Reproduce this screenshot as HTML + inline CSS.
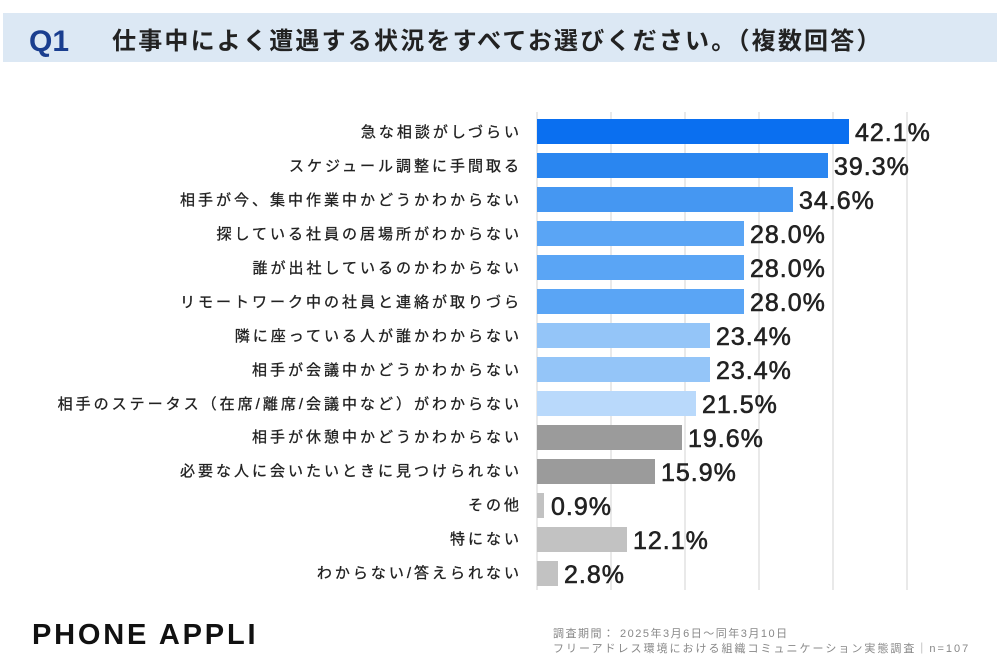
<!DOCTYPE html>
<html><head><meta charset="utf-8"><style>
body{margin:0;background:#fff;width:1000px;height:667px;overflow:hidden;font-family:"Liberation Sans","Noto Sans CJK JP",sans-serif}
</style></head><body>
<svg width="1000" height="667" xmlns="http://www.w3.org/2000/svg" font-family="Liberation Sans, Noto Sans CJK JP, sans-serif">
<rect x="3" y="13" width="994" height="49" fill="#dce8f4"/>
<text x="29" y="51" font-size="30" font-weight="bold" fill="#1a3e8f">Q1</text>
<text x="112" y="49" font-size="24" font-weight="bold" fill="#222" letter-spacing="2.2">仕事中によく遭遇する状況をすべてお選びください。（複数回答）</text>
<g stroke="#e2e2e2" stroke-width="1.5">
<line x1="537" y1="112" x2="537" y2="590"/><line x1="611" y1="112" x2="611" y2="590"/><line x1="685" y1="112" x2="685" y2="590"/><line x1="759" y1="112" x2="759" y2="590"/><line x1="833" y1="112" x2="833" y2="590"/><line x1="907" y1="112" x2="907" y2="590"/>
</g>
<g font-size="15" fill="#222" text-anchor="end" letter-spacing="3" stroke="#222" stroke-width="0.3">
<text x="522" y="137">急な相談がしづらい</text>
<text x="522" y="171">スケジュール調整に手間取る</text>
<text x="522" y="205">相手が今、集中作業中かどうかわからない</text>
<text x="522" y="239">探している社員の居場所がわからない</text>
<text x="522" y="273">誰が出社しているのかわからない</text>
<text x="522" y="307">リモートワーク中の社員と連絡が取りづら</text>
<text x="522" y="341">隣に座っている人が誰かわからない</text>
<text x="522" y="375">相手が会議中かどうかわからない</text>
<text x="522" y="409">相手のステータス（在席/離席/会議中など）がわからない</text>
<text x="522" y="442">相手が休憩中かどうかわからない</text>
<text x="522" y="476">必要な人に会いたいときに見つけられない</text>
<text x="522" y="510">その他</text>
<text x="522" y="544">特にない</text>
<text x="522" y="578">わからない/答えられない</text>
</g>
<g>
<rect x="537" y="119" width="312" height="25" fill="#0a6ff0"/>
<rect x="537" y="153" width="291" height="25" fill="#2a86f0"/>
<rect x="537" y="187" width="256" height="25" fill="#4597f2"/>
<rect x="537" y="221" width="207" height="25" fill="#5aa5f5"/>
<rect x="537" y="255" width="207" height="25" fill="#5aa5f5"/>
<rect x="537" y="289" width="207" height="25" fill="#5aa5f5"/>
<rect x="537" y="323" width="173" height="25" fill="#94c5f8"/>
<rect x="537" y="357" width="173" height="25" fill="#94c5f8"/>
<rect x="537" y="391" width="159" height="25" fill="#b9d9fb"/>
<rect x="537" y="425" width="145" height="25" fill="#9b9b9b"/>
<rect x="537" y="459" width="118" height="25" fill="#9b9b9b"/>
<rect x="537" y="493" width="7" height="25" fill="#c2c2c2"/>
<rect x="537" y="527" width="90" height="25" fill="#c2c2c2"/>
<rect x="537" y="561" width="21" height="25" fill="#c2c2c2"/>
</g>
<g font-size="25" fill="#222" stroke="#222" stroke-width="0.6" letter-spacing="1">
<text x="855" y="141">42.1%</text>
<text x="834" y="175">39.3%</text>
<text x="799" y="209">34.6%</text>
<text x="750" y="243">28.0%</text>
<text x="750" y="277">28.0%</text>
<text x="750" y="311">28.0%</text>
<text x="716" y="345">23.4%</text>
<text x="716" y="379">23.4%</text>
<text x="702" y="413">21.5%</text>
<text x="688" y="447">19.6%</text>
<text x="661" y="481">15.9%</text>
<text x="551" y="515">0.9%</text>
<text x="633" y="549">12.1%</text>
<text x="564" y="583">2.8%</text>
</g>
<text x="32" y="644" font-size="29" font-weight="bold" fill="#111" letter-spacing="2.8">PHONE  APPLI</text>
<text x="553" y="637" font-size="11" fill="#888" letter-spacing="1.5">調査期間： 2025年3月6日～同年3月10日</text>
<text x="553" y="652" font-size="11" fill="#888" letter-spacing="2">フリーアドレス環境における組織コミュニケーション実態調査｜n=107</text>
</svg>
</body></html>
